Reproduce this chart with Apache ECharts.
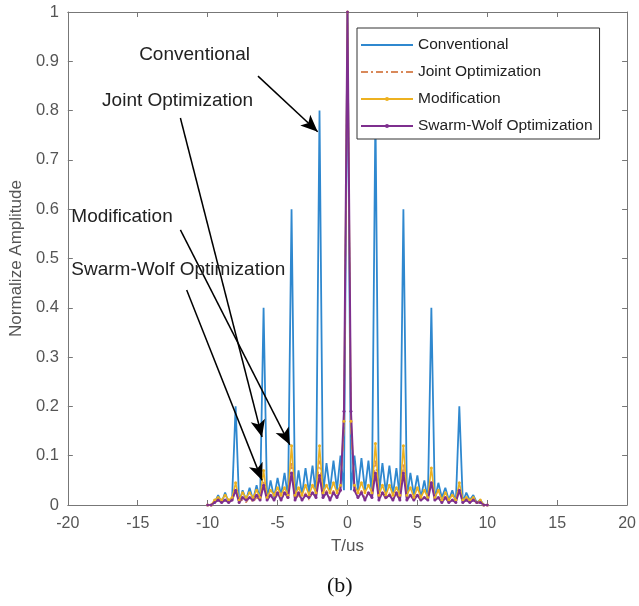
<!DOCTYPE html>
<html>
<head>
<meta charset="utf-8">
<script src="https://cdn.jsdelivr.net/npm/echarts@6/dist/echarts.min.js"></script>
<style>
  html, body { margin: 0; padding: 0; background: #fff; }
  #chart { width: 639px; height: 606px; }
</style>
</head>
<body>
<div id="chart"></div>
<script>
// time axis (us), sampled every 0.25
const timeUs = [-10, -9.75, -9.5, -9.25, -9, -8.75, -8.5, -8.25,
  -8, -7.75, -7.5, -7.25, -7, -6.75, -6.5, -6.25,
  -6, -5.75, -5.5, -5.25, -5, -4.75, -4.5, -4.25,
  -4, -3.75, -3.5, -3.25, -3, -2.75, -2.5, -2.25,
  -2, -1.75, -1.5, -1.25, -1, -0.75, -0.5, -0.25,
  0, 0.25, 0.5, 0.75, 1, 1.25, 1.5, 1.75,
  2, 2.25, 2.5, 2.75, 3, 3.25, 3.5, 3.75,
  4, 4.25, 4.5, 4.75, 5, 5.25, 5.5, 5.75,
  6, 6.25, 6.5, 6.75, 7, 7.25, 7.5, 7.75,
  8, 8.25, 8.5, 8.75, 9, 9.25, 9.5, 9.75,
  10];

const conventional = [0, 0, 0.005, 0.02, 0.005, 0.025, 0.005, 0.015,
  0.2, 0.005, 0.03, 0.01, 0.035, 0.01, 0.04, 0.01,
  0.4, 0.01, 0.05, 0.015, 0.055, 0.02, 0.065, 0.015,
  0.6, 0.015, 0.07, 0.02, 0.075, 0.025, 0.08, 0.02,
  0.8, 0.02, 0.085, 0.03, 0.09, 0.03, 0.1, 0.03,
  1, 0.03, 0.1, 0.03, 0.095, 0.03, 0.09, 0.02,
  0.8, 0.02, 0.085, 0.025, 0.08, 0.02, 0.075, 0.015,
  0.6, 0.015, 0.065, 0.02, 0.06, 0.015, 0.05, 0.01,
  0.4, 0.01, 0.045, 0.015, 0.035, 0.01, 0.03, 0.005,
  0.2, 0.005, 0.025, 0.01, 0.02, 0.005, 0.01, 0,
  0];

const jointOpt = [0, 0, 0.005, 0.01, 0.005, 0.01, 0.005, 0.01,
  0.03, 0.005, 0.01, 0.005, 0.015, 0.005, 0.015, 0.01,
  0.05, 0.01, 0.02, 0.01, 0.02, 0.01, 0.025, 0.01,
  0.085, 0.01, 0.02, 0.01, 0.025, 0.01, 0.025, 0.015,
  0.09, 0.015, 0.03, 0.015, 0.03, 0.015, 0.03, 0.15,
  1, 0.15, 0.03, 0.015, 0.03, 0.015, 0.025, 0.015,
  0.09, 0.015, 0.025, 0.01, 0.025, 0.01, 0.02, 0.01,
  0.085, 0.01, 0.02, 0.01, 0.02, 0.01, 0.015, 0.01,
  0.05, 0.01, 0.015, 0.005, 0.015, 0.005, 0.01, 0.005,
  0.03, 0.005, 0.01, 0.005, 0.01, 0.005, 0.005, 0,
  0];

const modification = [0, 0, 0.01, 0.015, 0.01, 0.02, 0.01, 0.015,
  0.045, 0.01, 0.025, 0.015, 0.025, 0.015, 0.03, 0.015,
  0.07, 0.015, 0.03, 0.02, 0.035, 0.02, 0.035, 0.02,
  0.12, 0.02, 0.035, 0.02, 0.04, 0.02, 0.04, 0.025,
  0.12, 0.025, 0.04, 0.025, 0.045, 0.025, 0.04, 0.17,
  1, 0.17, 0.04, 0.025, 0.045, 0.025, 0.04, 0.025,
  0.125, 0.02, 0.04, 0.02, 0.04, 0.02, 0.035, 0.02,
  0.12, 0.02, 0.035, 0.015, 0.035, 0.015, 0.03, 0.015,
  0.075, 0.015, 0.03, 0.01, 0.025, 0.01, 0.02, 0.01,
  0.045, 0.01, 0.015, 0.01, 0.015, 0.005, 0.01, 0,
  0];

const swarmWolf = [0, 0, 0.005, 0.01, 0.005, 0.01, 0.005, 0.01,
  0.03, 0.005, 0.015, 0.01, 0.015, 0.01, 0.02, 0.01,
  0.04, 0.01, 0.02, 0.01, 0.025, 0.01, 0.025, 0.015,
  0.065, 0.01, 0.025, 0.01, 0.02, 0.015, 0.025, 0.015,
  0.06, 0.015, 0.025, 0.01, 0.025, 0.015, 0.03, 0.19,
  1, 0.19, 0.03, 0.015, 0.025, 0.01, 0.025, 0.015,
  0.065, 0.01, 0.025, 0.015, 0.02, 0.01, 0.025, 0.01,
  0.065, 0.01, 0.02, 0.01, 0.02, 0.01, 0.015, 0.01,
  0.045, 0.01, 0.015, 0.005, 0.015, 0.005, 0.01, 0.005,
  0.03, 0.005, 0.01, 0.005, 0.01, 0.005, 0.005, 0,
  0];

const seriesNames = ['Conventional', 'Joint Optimization', 'Modification', 'Swarm-Wolf Optimization'];

// annotations (data coordinates)
const noteText = ['Conventional', 'Joint Optimization', 'Modification', 'Swarm-Wolf Optimization'];
const noteAt = [[-14.9, 0.913], [-17.55, 0.82], [-19.75, 0.584], [-19.75, 0.477]];
const arrowFrom = [[-6.4, 0.87], [-11.95, 0.785], [-11.95, 0.558], [-11.5, 0.436]];
const arrowTo = [[-2.13, 0.757], [-6.11, 0.138], [-4.12, 0.122], [-6.11, 0.05]];

const pairs = arr => timeUs.map((t, i) => [t, arr[i]]);

const font = 'Liberation Sans, Arial, sans-serif';
const axisGray = '#777';
const labelGray = '#555';

const chart = echarts.init(document.getElementById('chart'));

const boxAxis = {
  min: 0, max: 1, interval: 0.1,
  axisLine: { show: true, onZero: false, lineStyle: { color: axisGray, width: 1 } },
  axisTick: { show: true, inside: true, length: 5, lineStyle: { color: axisGray } },
  splitLine: { show: false }
};

const option = {
  animation: false,
  backgroundColor: '#fff',
  title: {
    text: '(b)',
    left: 322,
    top: 570,
    textStyle: { fontFamily: 'Liberation Serif, DejaVu Serif, serif', fontSize: 22, fontWeight: 'normal', color: '#111' }
  },
  grid: { left: 66, right: 10, top: 12, bottom: 101 },
  legend: {
    // no marker on the first two entries, a small dot on the last two
    data: seriesNames.map((n, i) => (i < 2 ? { name: n, itemStyle: { opacity: 0 } } : n)),
    orient: 'vertical',
    left: 357,
    top: 28,
    padding: [9, 7, 5, 3],
    itemWidth: 52,
    itemHeight: 5,
    itemGap: 11,
    backgroundColor: '#fff',
    borderColor: '#333',
    borderWidth: 1,
    textStyle: { fontFamily: font, fontSize: 15.5, color: '#222' }
  },
  xAxis: [
    {
      type: 'value', min: -20, max: 20, interval: 5,
      name: 'T/us', nameLocation: 'middle', nameGap: 33,
      nameTextStyle: { fontFamily: font, fontSize: 17, color: labelGray },
      axisLine: { show: true, onZero: false, lineStyle: { color: axisGray } },
      axisTick: { show: true, inside: true, length: 5, lineStyle: { color: axisGray } },
      axisLabel: { fontFamily: font, fontSize: 16, color: labelGray, margin: 11 },
      splitLine: { show: false }
    },
    {
      type: 'value', min: -20, max: 20, interval: 5, position: 'top',
      axisLine: { show: true, onZero: false, lineStyle: { color: axisGray } },
      axisTick: { show: true, inside: true, length: 5, lineStyle: { color: axisGray } },
      axisLabel: { show: false },
      splitLine: { show: false }
    }
  ],
  yAxis: [
    Object.assign({}, boxAxis, {
      type: 'value', position: 'left',
      name: 'Normalize Amplitude', nameLocation: 'middle', nameGap: 39,
      nameTextStyle: { fontFamily: font, fontSize: 17, color: labelGray },
      axisLabel: { fontFamily: font, fontSize: 16.5, color: labelGray, margin: 9 }
    }),
    Object.assign({}, boxAxis, {
      type: 'value', position: 'right',
      axisLabel: { show: false }
    })
  ],
  series: [
    {
      name: 'Conventional', type: 'line', data: pairs(conventional),
      symbol: 'none', color: '#2f88cf',
      lineStyle: { width: 1.8 }
    },
    {
      name: 'Joint Optimization', type: 'line', data: pairs(jointOpt),
      symbol: 'none', color: '#d9895a',
      lineStyle: { width: 1.3, type: [7, 3, 2, 3] }
    },
    {
      name: 'Modification', type: 'line', data: pairs(modification),
      symbol: 'circle', symbolSize: 3, color: '#edb120',
      lineStyle: { width: 1.6 }
    },
    {
      name: 'Swarm-Wolf Optimization', type: 'line', data: pairs(swarmWolf),
      symbol: 'circle', symbolSize: 3, color: '#7e2f8e',
      lineStyle: { width: 2 }
    },
    {
      name: 'notes', type: 'line', data: [],
      silent: true,
      markPoint: {
        symbol: 'circle', symbolSize: 0,
        label: { show: true, position: 'right', distance: 0, fontFamily: font, fontSize: 19, color: '#222' },
        data: noteText.map((t, i) => ({ name: t, coord: noteAt[i], label: { formatter: t } }))
      },
      markLine: {
        silent: true,
        symbol: ['none', 'arrow'],
        symbolSize: [11, 17],
        label: { show: false },
        lineStyle: { color: '#000', width: 1.5, type: 'solid' },
        data: arrowFrom.map((p, i) => [{ coord: p }, { coord: arrowTo[i] }])
      }
    }
  ]
};

chart.setOption(option);
</script>
</body>
</html>
